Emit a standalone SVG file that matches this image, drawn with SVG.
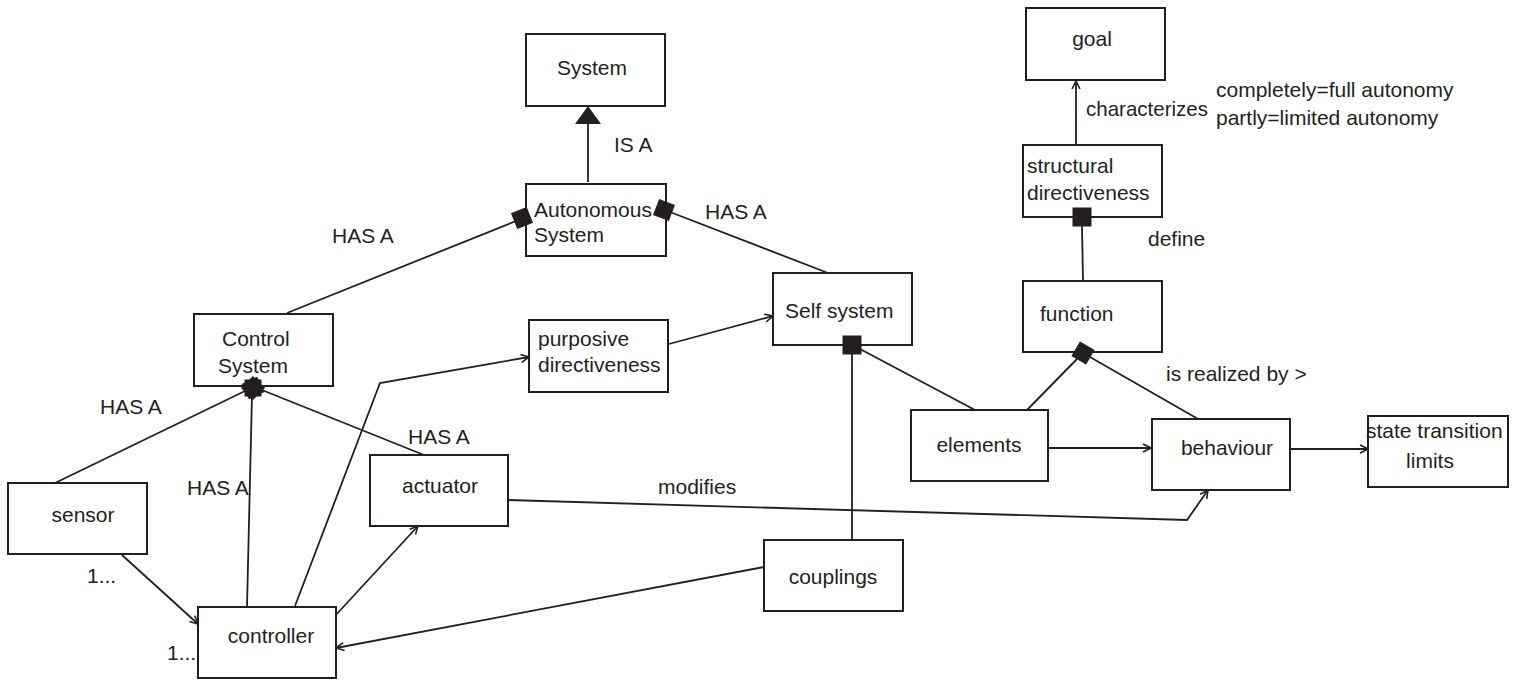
<svg xmlns="http://www.w3.org/2000/svg" width="1517" height="682" viewBox="0 0 1517 682">
<defs>
<style>
.box{fill:#fff;stroke:#231f20;stroke-width:2}
.ln{fill:none;stroke:#231f20;stroke-width:1.8}
.t{font-family:"Liberation Sans",Arial,sans-serif;font-size:21px;fill:#231f20}
.m{text-anchor:middle}
.dia{fill:#231f20;stroke:#231f20;stroke-width:1}
</style>
<marker id="open" viewBox="0 0 10 10" refX="9" refY="5" markerWidth="10" markerHeight="10" markerUnits="userSpaceOnUse" orient="auto">
<path d="M1,1 L9,5 L1,9" fill="none" stroke="#231f20" stroke-width="1.6"/>
</marker>
</defs>
<rect width="1517" height="682" fill="#fff"/>

<g id="connectors">
<line class="ln" x1="588" y1="182" x2="588" y2="124"/>
<polygon points="588,106 575,124 601,124" fill="#231f20"/>
<line class="ln" x1="287" y1="313" x2="516" y2="221"/>
<line class="ln" x1="828" y1="273" x2="670" y2="212"/>
<line class="ln" x1="55" y1="483" x2="245" y2="391"/>
<line class="ln" x1="247" y1="607" x2="252" y2="395"/>
<line class="ln" x1="424" y1="455" x2="262" y2="390"/>
<polyline class="ln" points="295,606 380,383 529,357" marker-end="url(#open)"/>
<line class="ln" x1="669" y1="344" x2="773" y2="316" marker-end="url(#open)"/>
<line class="ln" x1="852" y1="354" x2="852" y2="540"/>
<line class="ln" x1="860" y1="349" x2="975" y2="410"/>
<line class="ln" x1="1077" y1="359" x2="1027" y2="410"/>
<line class="ln" x1="1090" y1="357" x2="1198" y2="419"/>
<line class="ln" x1="1048" y1="448" x2="1151" y2="448" marker-end="url(#open)"/>
<line class="ln" x1="1290" y1="449" x2="1368" y2="449" marker-end="url(#open)"/>
<polyline class="ln" points="508,500 1187,520 1208,490" marker-end="url(#open)"/>
<line class="ln" x1="764" y1="567" x2="336" y2="648" marker-end="url(#open)"/>
<line class="ln" x1="122" y1="555" x2="198" y2="624" marker-end="url(#open)"/>
<line class="ln" x1="334" y1="617" x2="418" y2="526" marker-end="url(#open)"/>
<line class="ln" x1="1076" y1="145" x2="1076" y2="81" marker-end="url(#open)"/>
<line class="ln" x1="1082" y1="226" x2="1083" y2="281"/>
<text class="t" x="614" y="152">IS A</text>
<text class="t" x="332" y="243">HAS A</text>
<text class="t" x="705" y="219">HAS A</text>
<text class="t" x="100" y="414">HAS A</text>
<text class="t" x="187" y="495">HAS A</text>
<text class="t" x="408" y="444">HAS A</text>
<text class="t" x="87" y="583">1...</text>
<text class="t" x="167" y="660">1...</text>
<text class="t" x="658" y="494">modifies</text>
<text class="t" x="1086" y="116" textLength="122" lengthAdjust="spacingAndGlyphs">characterizes</text>
<text class="t" x="1148" y="246">define</text>
<text class="t" x="1166" y="381">is realized by &gt;</text>
<text class="t" x="1216" y="97">completely=full autonomy</text>
<text class="t" x="1216" y="125">partly=limited autonomy</text>
</g>

<g id="system"><rect class="box" x="526" y="34" width="139" height="72"/><text class="t m" x="592" y="75">System</text></g>
<g id="autonomous-system"><rect class="box" x="526" y="184" width="140" height="72"/><text class="t" x="534" y="217">Autonomous</text><text class="t" x="534" y="242">System</text>
<rect class="dia" x="514" y="210" width="16" height="16" transform="rotate(-22 522 218)"/>
<rect class="dia" x="656" y="202" width="16" height="16" transform="rotate(21 664 210)"/></g>
<g id="control-system"><rect class="box" x="194" y="314" width="139" height="72"/><text class="t" x="222" y="346">Control</text><text class="t" x="218" y="373">System</text>
<rect class="dia" x="245" y="380" width="16" height="16"/>
<rect class="dia" x="245" y="380" width="16" height="16" transform="rotate(45 253 388)"/>
<rect class="dia" x="245" y="380" width="16" height="16" transform="rotate(-25 253 388)"/></g>
<g id="sensor"><rect class="box" x="8" y="483" width="139" height="71"/><text class="t m" x="83" y="522">sensor</text></g>
<g id="controller"><rect class="box" x="198" y="607" width="138" height="71"/><text class="t m" x="271" y="643">controller</text></g>
<g id="actuator"><rect class="box" x="370" y="455" width="138" height="71"/><text class="t m" x="440" y="493">actuator</text></g>
<g id="purposive-directiveness"><rect class="box" x="529" y="320" width="139" height="72"/><text class="t" x="538" y="346">purposive</text><text class="t" x="538" y="372">directiveness</text></g>
<g id="self-system"><rect class="box" x="773" y="273" width="139" height="72"/><text class="t" x="785" y="318">Self system</text>
<rect class="dia" x="843" y="336" width="18" height="18"/></g>
<g id="couplings"><rect class="box" x="764" y="540" width="139" height="71"/><text class="t m" x="833" y="584">couplings</text></g>
<g id="elements"><rect class="box" x="911" y="410" width="137" height="71"/><text class="t m" x="979" y="452">elements</text></g>
<g id="function"><rect class="box" x="1023" y="281" width="139" height="71"/><text class="t" x="1040" y="321">function</text>
<rect class="dia" x="1075" y="345" width="16" height="16" transform="rotate(30 1083 353)"/></g>
<g id="behaviour"><rect class="box" x="1152" y="419" width="138" height="71"/><text class="t m" x="1227" y="455">behaviour</text></g>
<g id="state-transition-limits"><rect class="box" x="1368" y="416" width="140" height="71"/><text class="t" x="1366" y="438">state transition</text><text class="t m" x="1430" y="468">limits</text></g>
<g id="goal"><rect class="box" x="1026" y="8" width="139" height="72"/><text class="t m" x="1092" y="46">goal</text></g>
<g id="structural-directiveness"><rect class="box" x="1023" y="145" width="139" height="72"/><text class="t" x="1027" y="173">structural</text><text class="t" x="1027" y="200">directiveness</text>
<rect class="dia" x="1073" y="208" width="18" height="18"/></g>
</svg>
